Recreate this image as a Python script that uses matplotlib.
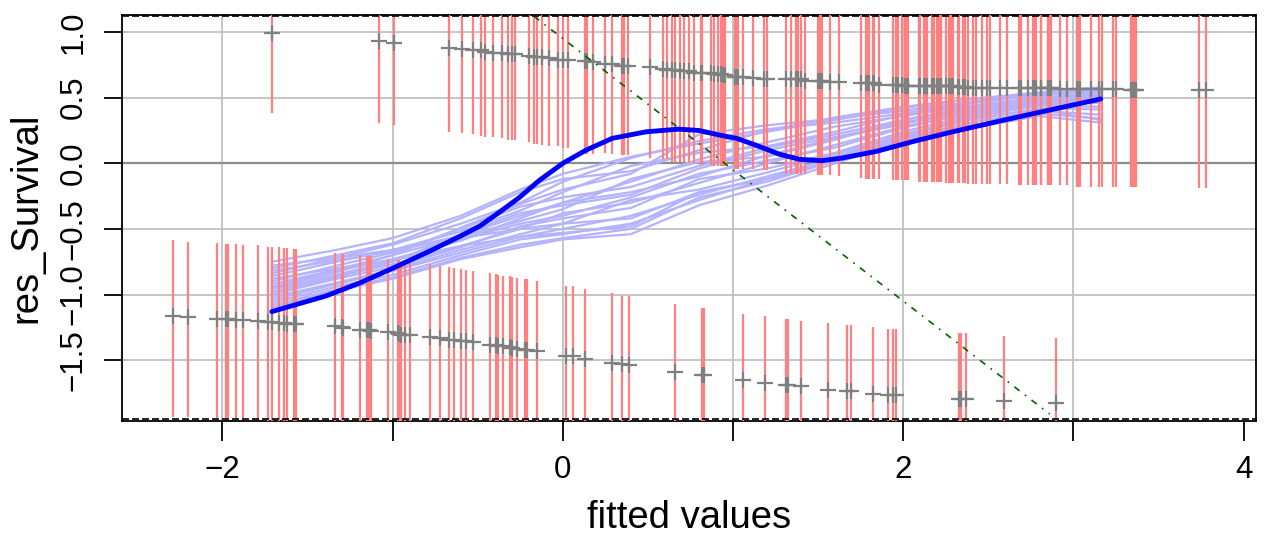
import matplotlib
matplotlib.use("Agg")
import matplotlib.pyplot as plt

plt.rcParams['font.family'] = ['Liberation Sans', 'DejaVu Sans']

# upper band: fitted value, residual, lower end of the red interval
up_x = [-1.71, -1.08, -0.99, -0.67, -0.59, -0.53, -0.48, -0.46, -0.41, -0.36,
        -0.32, -0.30, -0.28, -0.20, -0.17, -0.15, -0.12, -0.08, -0.03, 0.00,
        0.03, 0.13, 0.14, 0.18, 0.25, 0.29, 0.35, 0.36, 0.38, 0.51,
        0.59, 0.61, 0.64, 0.66, 0.69, 0.71, 0.74, 0.77, 0.81, 0.82,
        0.87, 0.89, 0.91, 0.93, 0.94, 0.95, 1.01, 1.02, 1.03, 1.06,
        1.12, 1.18, 1.20, 1.31, 1.34, 1.37, 1.38, 1.40, 1.42, 1.50,
        1.51, 1.52, 1.57, 1.62, 1.75, 1.78, 1.79, 1.80, 1.82, 1.83,
        1.86, 1.94, 1.96, 1.97, 1.99, 2.01, 2.02, 2.03, 2.09, 2.10,
        2.12, 2.13, 2.14, 2.17, 2.18, 2.20, 2.21, 2.22, 2.22, 2.25,
        2.27, 2.28, 2.29, 2.32, 2.33, 2.35, 2.36, 2.38, 2.41, 2.43,
        2.46, 2.49, 2.51, 2.57, 2.61, 2.68, 2.69, 2.73, 2.76, 2.77,
        2.78, 2.81, 2.81, 2.85, 2.85, 2.86, 2.87, 2.92, 2.96, 3.02,
        3.03, 3.04, 3.10, 3.15, 3.17, 3.23, 3.25, 3.34, 3.35, 3.36,
        3.37, 3.74, 3.78]
up_y = [0.99, 0.93, 0.92, 0.88, 0.87, 0.86, 0.86, 0.85, 0.84, 0.84,
        0.83, 0.83, 0.83, 0.82, 0.81, 0.81, 0.81, 0.80, 0.79, 0.79,
        0.79, 0.78, 0.78, 0.77, 0.76, 0.76, 0.74, 0.74, 0.74, 0.73,
        0.72, 0.71, 0.71, 0.71, 0.70, 0.70, 0.70, 0.69, 0.69, 0.69,
        0.69, 0.68, 0.68, 0.68, 0.67, 0.67, 0.66, 0.66, 0.66, 0.66,
        0.65, 0.64, 0.64, 0.64, 0.64, 0.64, 0.64, 0.64, 0.63, 0.63,
        0.63, 0.63, 0.62, 0.62, 0.61, 0.61, 0.61, 0.61, 0.61, 0.61,
        0.60, 0.60, 0.60, 0.60, 0.60, 0.59, 0.59, 0.59, 0.59, 0.59,
        0.59, 0.59, 0.59, 0.585, 0.585, 0.585, 0.585, 0.585, 0.585, 0.585,
        0.585, 0.585, 0.585, 0.58, 0.58, 0.58, 0.58, 0.577, 0.577, 0.577,
        0.577, 0.577, 0.577, 0.575, 0.575, 0.573, 0.573, 0.573, 0.573, 0.573,
        0.573, 0.573, 0.573, 0.57, 0.57, 0.57, 0.57, 0.567, 0.567, 0.565,
        0.565, 0.565, 0.565, 0.565, 0.565, 0.565, 0.565, 0.56, 0.56, 0.56,
        0.56, 0.557, 0.557]
up_lo = [0.38, 0.31, 0.29, 0.24, 0.23, 0.22, 0.21, 0.20, 0.20, 0.19,
         0.18, 0.18, 0.18, 0.16, 0.15, 0.15, 0.14, 0.13, 0.13, 0.12,
         0.12, 0.07, 0.07, 0.07, 0.08, 0.07, 0.06, 0.06, 0.06, 0.04,
         0.03, 0.03, 0.01, 0.01, 0.01, 0.01, 0.00, 0.00, -0.01, -0.01,
         -0.01, -0.02, -0.02, -0.02, -0.02, -0.02, -0.04, -0.04, -0.04, -0.04,
         -0.04, -0.05, -0.05, -0.08, -0.08, -0.08, -0.08, -0.08, -0.08, -0.09,
         -0.09, -0.09, -0.09, -0.10, -0.11, -0.12, -0.12, -0.12, -0.12, -0.12,
         -0.12, -0.13, -0.13, -0.13, -0.13, -0.13, -0.13, -0.13, -0.14, -0.14,
         -0.14, -0.14, -0.14, -0.146, -0.146, -0.146, -0.146, -0.146, -0.146, -0.15,
         -0.15, -0.15, -0.15, -0.15, -0.15, -0.15, -0.15, -0.156, -0.156, -0.156,
         -0.156, -0.156, -0.156, -0.156, -0.156, -0.164, -0.164, -0.164, -0.164, -0.164,
         -0.164, -0.169, -0.169, -0.169, -0.169, -0.169, -0.169, -0.169, -0.169, -0.177,
         -0.177, -0.177, -0.177, -0.177, -0.177, -0.181, -0.181, -0.184, -0.184, -0.184,
         -0.184, -0.189, -0.189]

# lower band: fitted value, residual, upper and lower end of the red interval
dn_x = [-2.29, -2.20, -2.03, -1.98, -1.97, -1.92, -1.88, -1.79, -1.73, -1.71,
        -1.67, -1.64, -1.62, -1.58, -1.57, -1.34, -1.30, -1.29, -1.19, -1.15,
        -1.14, -1.13, -1.03, -0.97, -0.96, -0.95, -0.93, -0.90, -0.78, -0.72,
        -0.67, -0.64, -0.60, -0.57, -0.53, -0.43, -0.39, -0.38, -0.35, -0.31,
        -0.30, -0.27, -0.22, -0.21, -0.15, 0.02, 0.06, 0.13, 0.29, 0.35,
        0.39, 0.66, 0.82, 0.83, 1.06, 1.19, 1.31, 1.32, 1.40, 1.56,
        1.67, 1.69, 1.82, 1.91, 1.94, 1.96, 2.33, 2.34, 2.37, 2.59,
        2.90]
dn_y = [-1.167, -1.171, -1.184, -1.187, -1.184, -1.192, -1.197, -1.205, -1.212, -1.212,
        -1.217, -1.217, -1.222, -1.222, -1.225, -1.243, -1.25, -1.255, -1.268, -1.268,
        -1.273, -1.281, -1.288, -1.293, -1.298, -1.306, -1.306, -1.311, -1.324, -1.331,
        -1.344, -1.349, -1.352, -1.357, -1.362, -1.382, -1.388, -1.39, -1.395, -1.40,
        -1.408, -1.413, -1.42, -1.426, -1.433, -1.466, -1.471, -1.489, -1.522, -1.529,
        -1.535, -1.59, -1.616, -1.616, -1.654, -1.674, -1.692, -1.692, -1.70, -1.725,
        -1.738, -1.738, -1.755, -1.763, -1.768, -1.768, -1.796, -1.796, -1.796, -1.809,
        -1.826]
dn_hi = [-0.588, -0.596, -0.608, -0.613, -0.613, -0.616, -0.621, -0.626, -0.634, -0.634,
         -0.641, -0.646, -0.646, -0.651, -0.651, -0.684, -0.689, -0.689, -0.702, -0.71,
         -0.71, -0.71, -0.727, -0.74, -0.74, -0.748, -0.748, -0.76, -0.768, -0.781,
         -0.791, -0.794, -0.806, -0.811, -0.819, -0.836, -0.844, -0.849, -0.855, -0.862,
         -0.867, -0.874, -0.88, -0.882, -0.895, -0.933, -0.938, -0.958, -0.989, -1.009,
         -1.009, -1.07, -1.103, -1.103, -1.146, -1.167, -1.187, -1.187, -1.20, -1.217,
         -1.235, -1.235, -1.25, -1.26, -1.263, -1.263, -1.293, -1.293, -1.293, -1.314,
         -1.331]
dn_lo = [-1.933, -1.933, -1.941, -1.941, -1.941, -1.95, -1.95, -1.954] + [-2.2] * 63

# main smooth
fit_x = [-1.71, -1.39, -1.19, -1.00, -0.80, -0.61, -0.49, -0.37, -0.255, -0.138,
         0.00, 0.136, 0.29, 0.49, 0.68, 0.80, 0.92, 1.02, 1.13, 1.27,
         1.39, 1.52, 1.64, 1.84, 2.07, 2.29, 2.56, 2.84, 3.16]
fit_y = [-1.13, -1.01, -0.91, -0.80, -0.68, -0.56, -0.48, -0.37, -0.26, -0.13,
         0.00, 0.10, 0.19, 0.24, 0.26, 0.25, 0.215, 0.19, 0.14, 0.07,
         0.03, 0.02, 0.04, 0.09, 0.17, 0.24, 0.32, 0.40, 0.49]

# bootstrap smooths, all on the same x positions
boot_x = [-1.71, -1.33, -1.0, -0.6, -0.25, 0.0, 0.4, 0.8, 1.2, 1.6, 2.0, 2.4, 2.8, 3.16]
boot_y = [
    [-0.75, -0.66, -0.57, -0.40, -0.20, -0.08, 0.05, 0.15, 0.24, 0.33, 0.42, 0.49, 0.54, 0.58],
    [-0.80, -0.70, -0.61, -0.42, -0.22, -0.12, -0.06, 0.10, 0.25, 0.35, 0.43, 0.49, 0.53, 0.56],
    [-0.84, -0.72, -0.62, -0.46, -0.30, -0.14, 0.04, 0.17, 0.26, 0.31, 0.38, 0.46, 0.52, 0.55],
    [-0.86, -0.75, -0.66, -0.52, -0.36, -0.22, -0.02, 0.08, 0.13, 0.24, 0.37, 0.46, 0.52, 0.54],
    [-0.82, -0.74, -0.67, -0.55, -0.40, -0.30, -0.14, 0.03, 0.16, 0.28, 0.36, 0.44, 0.50, 0.53],
    [-0.90, -0.78, -0.68, -0.50, -0.33, -0.26, -0.18, -0.02, 0.12, 0.22, 0.33, 0.43, 0.50, 0.52],
    [-0.92, -0.81, -0.70, -0.56, -0.44, -0.35, -0.12, 0.01, 0.05, 0.18, 0.33, 0.42, 0.49, 0.51],
    [-0.94, -0.82, -0.73, -0.59, -0.42, -0.30, -0.22, -0.10, 0.06, 0.19, 0.30, 0.40, 0.48, 0.50],
    [-0.96, -0.85, -0.74, -0.58, -0.46, -0.40, -0.26, -0.08, 0.02, 0.12, 0.27, 0.39, 0.47, 0.49],
    [-0.98, -0.86, -0.77, -0.63, -0.50, -0.38, -0.30, -0.15, 0.00, 0.14, 0.28, 0.38, 0.46, 0.48],
    [-1.00, -0.88, -0.79, -0.64, -0.48, -0.42, -0.34, -0.12, -0.04, 0.08, 0.24, 0.37, 0.45, 0.46],
    [-1.02, -0.91, -0.81, -0.66, -0.54, -0.46, -0.28, -0.20, -0.07, 0.07, 0.22, 0.35, 0.44, 0.43],
    [-1.04, -0.92, -0.82, -0.68, -0.56, -0.50, -0.40, -0.24, -0.10, 0.04, 0.21, 0.33, 0.42, 0.41],
    [-1.06, -0.94, -0.85, -0.70, -0.58, -0.54, -0.46, -0.28, -0.12, 0.02, 0.19, 0.31, 0.40, 0.37],
    [-1.08, -0.96, -0.87, -0.72, -0.62, -0.57, -0.50, -0.26, -0.14, 0.02, 0.18, 0.29, 0.38, 0.34],
    [-1.10, -0.97, -0.88, -0.73, -0.64, -0.58, -0.54, -0.32, -0.17, 0.00, 0.17, 0.27, 0.36, 0.31],
    [-0.78, -0.72, -0.66, -0.57, -0.50, -0.46, -0.42, -0.22, -0.12, 0.02, 0.20, 0.36, 0.45, 0.47],
    [-0.95, -0.83, -0.70, -0.49, -0.31, -0.20, -0.08, 0.22, 0.29, 0.34, 0.40, 0.47, 0.53, 0.57],
    [-1.00, -0.87, -0.75, -0.54, -0.38, -0.32, -0.24, -0.04, 0.10, 0.20, 0.31, 0.41, 0.49, 0.53],
    [-0.88, -0.80, -0.74, -0.63, -0.56, -0.53, -0.48, -0.22, -0.12, 0.05, 0.22, 0.34, 0.41, 0.33],
]

# reference line (dot-dash)
ref_x = [-0.17, 2.86]
ref_y = [1.12, -1.91]

xticks = [-2, -1, 0, 1, 2, 3, 4]
xtick_labels = ['\u22122', '', '0', '', '2', '', '4']
yticks = [-1.5, -1.0, -0.5, 0.0, 0.5, 1.0]
ytick_labels = ['\u22121.5', '\u22121.0', '\u22120.5', '0.0', '0.5', '1.0']

fig = plt.figure(figsize=(12.72, 5.36), dpi=100)
ax = fig.add_axes([0.0963, 0.2146, 0.8915, 0.758])
ax.set_xlim(-2.587, 4.075)
ax.set_ylim(-1.963, 1.132)

# grid
for gx in xticks[:-1]:
    ax.axvline(gx, color='#c0c0c0', lw=1.3, zorder=0)
for gy in yticks:
    if gy != 0:
        ax.axhline(gy, color='#c0c0c0', lw=1.3, zorder=0)
ax.axhline(0, color='#8c8c8c', lw=1.6, zorder=1)

for by in boot_y:
    ax.plot(boot_x, by, color='#b3b3ff', lw=1.6, zorder=2)

ax.vlines(up_x, up_lo, 1.5, colors='#ff8080', lw=1.6, zorder=3)
ax.vlines(dn_x, dn_lo, dn_hi, colors='#ff8080', lw=1.6, zorder=3)

ax.plot(up_x, up_y, ls='none', marker='+', ms=11, mew=1.6, color='#808080', zorder=4)
ax.plot(dn_x, dn_y, ls='none', marker='+', ms=11, mew=1.6, color='#808080', zorder=4)

ax.plot(fit_x, fit_y, color='#0000ff', lw=3.5, zorder=5, solid_capstyle='round')
ax.plot(ref_x, ref_y, color='#006400', lw=1.2, dashes=(4, 4, 1, 4), zorder=6)

# tick-like dashes just inside the top and bottom edges
ax.plot([0, 1], [0.996, 0.996], transform=ax.transAxes, color='black',
        lw=1.2, dashes=(4.2, 1.8), zorder=7, clip_on=False)
ax.plot([0, 1], [0.004, 0.004], transform=ax.transAxes, color='black',
        lw=1.2, dashes=(4.2, 1.8), zorder=7, clip_on=False)

for s in ax.spines.values():
    s.set_linewidth(1.3)

ax.set_xticks(xticks)
ax.set_xticklabels(xtick_labels)
ax.set_yticks(yticks)
ax.set_yticklabels(ytick_labels)
ax.tick_params(axis='x', length=14.5, width=1.3, pad=10, labelsize=22.5)
ax.tick_params(axis='y', length=13.3, width=1.3, pad=11, labelsize=22.5,
               labelrotation=90)
for lab in ax.get_yticklabels():
    lab.set_verticalalignment('center')

fig.text(0.0205, 0.593, 'res_Survival', rotation=90, ha='center', va='center',
         fontsize=27.5)
fig.text(0.542, 0.015, 'fitted values', ha='center', va='baseline', fontsize=27.5)

fig.savefig('out.png', dpi=100)
